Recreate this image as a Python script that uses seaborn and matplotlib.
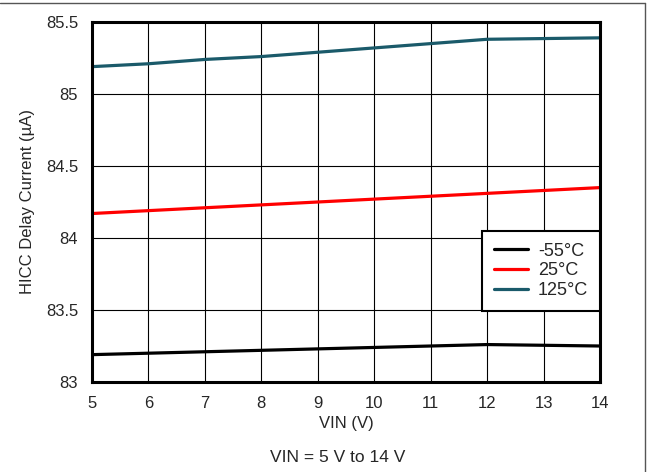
import matplotlib
matplotlib.use("Agg")
import matplotlib.pyplot as plt
import seaborn as sns
import pandas as pd
from matplotlib.lines import Line2D

# values
vin = [5, 6, 7, 8, 9, 10, 11, 12, 13, 14]
i_m55 = [83.19, 83.20, 83.21, 83.22, 83.23, 83.24, 83.25, 83.26, 83.255, 83.25]
i_25 = [84.17, 84.19, 84.21, 84.23, 84.25, 84.27, 84.29, 84.31, 84.33, 84.35]
i_125 = [85.19, 85.21, 85.24, 85.26, 85.29, 85.32, 85.35, 85.38, 85.385, 85.39]
labels = ["-55°C", "25°C", "125°C"]
colors = ["#000000", "#ff0000", "#1a5a6a"]

df = pd.DataFrame({
    "VIN": vin * 3,
    "I": i_m55 + i_25 + i_125,
    "Temp": [labels[0]] * len(vin) + [labels[1]] * len(vin) + [labels[2]] * len(vin),
})

sns.set_style("white")
plt.rcParams["font.family"] = ["Liberation Sans", "DejaVu Sans"]

fig = plt.figure(figsize=(6.49, 4.72), dpi=100)
ax = fig.add_axes([92 / 649, 1 - 382 / 472, 508 / 649, 360 / 472])

sns.lineplot(data=df, x="VIN", y="I", hue="Temp", palette=colors,
             linewidth=2.3, ax=ax, legend=False)

ax.set_xlim(5, 14)
ax.set_ylim(83, 85.5)
ax.set_xticks(range(5, 15))
ax.set_yticks([83, 83.5, 84, 84.5, 85, 85.5])
ax.set_yticklabels(["83", "83.5", "84", "84.5", "85", "85.5"])
ax.grid(True, color="black", linewidth=0.8)
ax.tick_params(labelsize=12, length=0)
ax.tick_params(axis="x", pad=10)
ax.tick_params(axis="y", pad=10)
for s in ax.spines.values():
    s.set_color("black")
    s.set_linewidth(2.2)
ax.set_xlabel("VIN (V)", fontsize=12, labelpad=4)
ax.set_ylabel("HICC Delay Current (µA)", fontsize=12, labelpad=8)

handles = [Line2D([], [], color=c, linewidth=2.3) for c in colors]
leg = ax.legend(handles, labels, loc="upper right", bbox_to_anchor=(1.0, 0.42),
                borderaxespad=0, fontsize=13, fancybox=False, framealpha=1,
                edgecolor="black", handlelength=1.9, handletextpad=0.55,
                labelspacing=0.15, borderpad=0.65)
leg.get_frame().set_linewidth(1.5)

fig.text(0.52, 1 - 457 / 472, "VIN = 5 V to 14 V", ha="center", va="center", fontsize=12.5)

# outer frame lines (top and right)
fig.add_artist(Line2D([0, 645 / 649], [1 - 3 / 472, 1 - 3 / 472], color="#555555",
                      linewidth=1, transform=fig.transFigure))
fig.add_artist(Line2D([645 / 649, 645 / 649], [0, 1 - 3 / 472], color="#555555",
                      linewidth=1, transform=fig.transFigure))

fig.savefig("out.png", dpi=100)
